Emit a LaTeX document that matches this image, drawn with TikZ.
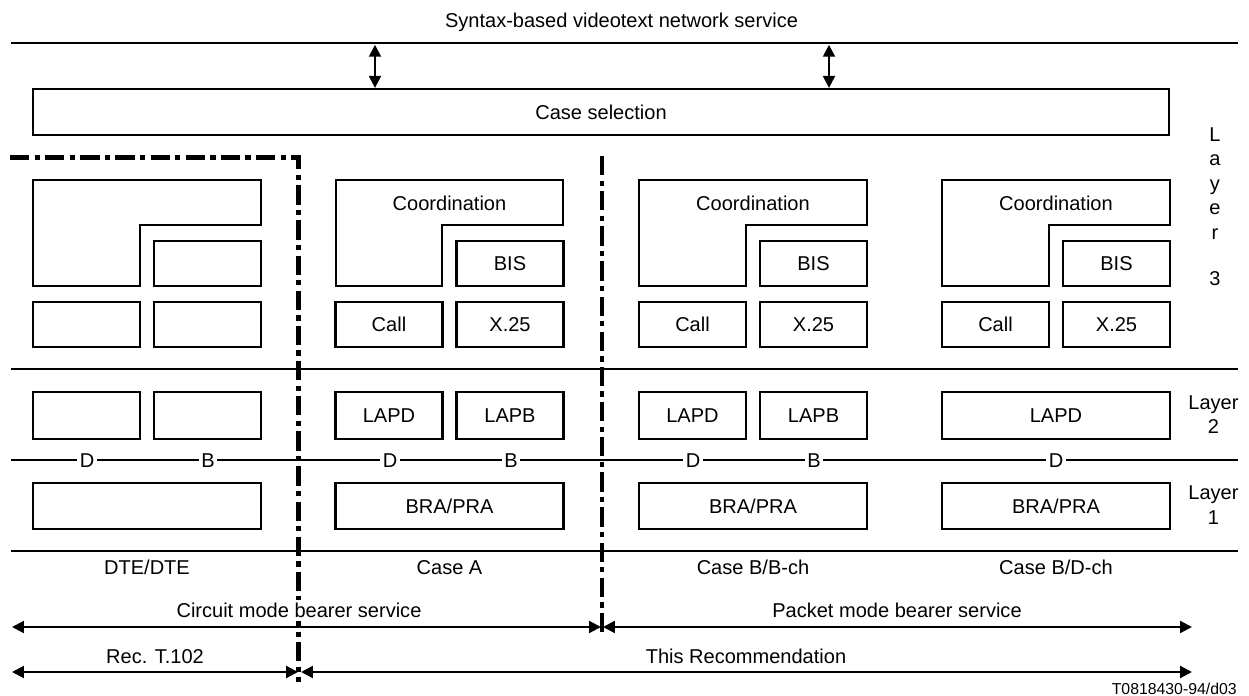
\documentclass[tikz,border=0pt]{standalone}
\usepackage{fontspec}
\setmainfont{Liberation Sans}
\usetikzlibrary{arrows.meta}
\newlength{\unitpx}\setlength{\unitpx}{0.02cm}
\begin{document}
\begin{tikzpicture}[x=0.02cm,y=-0.02cm,
  every node/.style={font=\fontsize{11.4pt}{13.7pt}\selectfont, inner sep=0pt},
  rule/.style={line width=1.7pt},
  box/.style={draw, line width=1.25pt, text height=14.3\unitpx, text depth=0pt},
  sbox/.style={box, minimum width=107\unitpx, minimum height=45\unitpx},
  tbox/.style={box, minimum width=107\unitpx, minimum height=47\unitpx},
  wbox/.style={box, minimum width=228\unitpx, minimum height=46\unitpx},
  wtbox/.style={box, minimum width=228\unitpx, minimum height=47\unitpx},
  lshape/.style={draw, line width=1.25pt},
  lbl/.style={anchor=base},
  chan/.style={anchor=base, fill=white, inner xsep=2.5\unitpx, inner ysep=1\unitpx},
  dashdot/.style={line width=2.4pt, dash pattern=on 11pt off 3pt on 3pt off 3pt},
  dbl/.style={line width=1.2pt, {Triangle[length=6.8pt,width=6.8pt]}-{Triangle[length=6.8pt,width=6.8pt]}},
]
\useasboundingbox (0,0) rectangle (1249,696);

% title and top rule
\node[lbl] (title) at (621.5,27.5) {Syntax-based videotext network service};
\coordinate (topL) at (11,43);
\coordinate (topR) at (1238,43);
\draw[rule] (topL) -- (topR);

% case selection
\node[box, minimum width=1136\unitpx, minimum height=46\unitpx] (cs) at (601,112) {Case selection};
\coordinate (a1) at (375,44.8);
\coordinate (a2) at (829,44.8);
\draw[dbl] (a1) -- (a1 |- cs.north);
\draw[dbl] (a2) -- (a2 |- cs.north);

% ---------- DTE/DTE column (L=33)
\draw[lshape] (33,180) -- (261,180) -- (261,225) -- (140,225) -- (140,286) -- (33,286) -- cycle;
\node[sbox] (dteBIS) at (207.5,263.5) {};
\node[sbox] (dteCall) at (86.5,324.5) {};
\node[sbox] (dteX) at (207.5,324.5) {};
\node[tbox] (dteL2a) at (86.5,415.5) {};
\node[tbox] (dteL2b) at (207.5,415.5) {};
\node[wbox] (dteL1) at (147,506) {};

% ---------- Case A column (L=336)
\draw[lshape] (336,180) -- (563,180) -- (563,225) -- (442,225) -- (442,286) -- (336,286) -- cycle;
\node[lbl] (coA) at (449.5,210.5) {Coordination};
\node[sbox] (bisA) at (510,263.5) {BIS};
\node[sbox] (callA) at (389,324.5) {Call};
\node[sbox] (xA) at (510,324.5) {X.25};
\node[tbox] (lapdA) at (389,415.5) {LAPD};
\node[tbox] (lapbA) at (510,415.5) {LAPB};
\node[wbox] (braA) at (449.5,506) {BRA/PRA};

% ---------- Case B/B-ch column (L=639)
\draw[lshape] (639,180) -- (867,180) -- (867,225) -- (746,225) -- (746,286) -- (639,286) -- cycle;
\node[lbl] (coB) at (753,210.5) {Coordination};
\node[sbox] (bisB) at (813.5,263.5) {BIS};
\node[sbox] (callB) at (692.5,324.5) {Call};
\node[sbox] (xB) at (813.5,324.5) {X.25};
\node[tbox] (lapdB) at (692.5,415.5) {LAPD};
\node[tbox] (lapbB) at (813.5,415.5) {LAPB};
\node[wbox] (braB) at (753,506) {BRA/PRA};

% ---------- Case B/D-ch column (L=942)
\draw[lshape] (942,180) -- (1170,180) -- (1170,225) -- (1049,225) -- (1049,286) -- (942,286) -- cycle;
\node[lbl] (coC) at (1056,210.5) {Coordination};
\node[sbox] (bisC) at (1116.5,263.5) {BIS};
\node[sbox] (callC) at (995.5,324.5) {Call};
\node[sbox] (xC) at (1116.5,324.5) {X.25};
\node[wtbox] (lapdC) at (1056,415.5) {LAPD};
\node[wbox] (braC) at (1056,506) {BRA/PRA};

% ---------- horizontal rules
\coordinate (l3L) at (11,369);
\coordinate (l3R) at (1238,369);
\draw[rule] (l3L) -- (l3R);
\coordinate (chL) at (11,460);
\coordinate (chR) at (1238,460);
\draw[rule] (chL) -- (chR);
\coordinate (l1L) at (11,551);
\coordinate (l1R) at (1238,551);
\draw[rule] (l1L) -- (l1R);

% channel labels
\node[chan] (dD) at (87,467) {D};
\node[chan] (dB) at (208,467) {B};
\node[chan] (aD) at (390,467) {D};
\node[chan] (aB) at (511,467) {B};
\node[chan] (bD) at (693,467) {D};
\node[chan] (bB) at (814,467) {B};
\node[chan] (cD) at (1056,467) {D};

% layer labels
\node[anchor=north, align=center, font=\fontsize{11.4pt}{13.9pt}\selectfont] (lay3) at (1215,127.4) {L\\a\\y\\e\\r\\[12.6pt]3};
\node[anchor=north, align=center, font=\fontsize{11.4pt}{13.3pt}\selectfont] (lay2) at (1213.5,395.7) {Layer\\2};
\node[anchor=north, align=center, font=\fontsize{11.4pt}{14.0pt}\selectfont] (lay1) at (1213.5,485.7) {Layer\\1};

% case labels
\node[lbl] (cdte) at (147,574) {DTE/DTE};
\node[lbl] (ca) at (449.5,574) {Case A};
\node[lbl] (cb) at (753,574) {Case B/B-ch};
\node[lbl] (cc) at (1056,574) {Case B/D-ch};

% dash-dot boundaries
\draw[dashdot] (10,157.5) -- (298.5,157.5) -- (298.5,682);
\draw[dashdot] (602,156) -- (602,637);

% bearer service arrows
\coordinate (cmL) at (12,627);
\coordinate (cmR) at (601,627);
\coordinate (pmL) at (603,627);
\coordinate (pmR) at (1192,627);
\draw[dbl] (cmL) -- (cmR);
\draw[dbl] (pmL) -- (pmR);
\node[lbl, fill=white, inner sep=3\unitpx] (cmT) at (299,617.5) {Circuit mode bearer service};
\node[lbl] (pmT) at (897,617.5) {Packet mode bearer service};

\coordinate (rtL) at (12,672);
\coordinate (rtR) at (298,672);
\coordinate (trL) at (301,672);
\coordinate (trR) at (1192,672);
\draw[dbl] (rtL) -- (rtR);
\draw[dbl] (trL) -- (trR);
\node[lbl] (rtT) at (155,663) {Rec. T.102};
\node[lbl] (trT) at (746,663) {This Recommendation};

\node[anchor=base east, font=\fontsize{9pt}{11pt}\selectfont] (ref) at (1237,694.5) {T0818430-94/d03};
\end{tikzpicture}
\end{document}
